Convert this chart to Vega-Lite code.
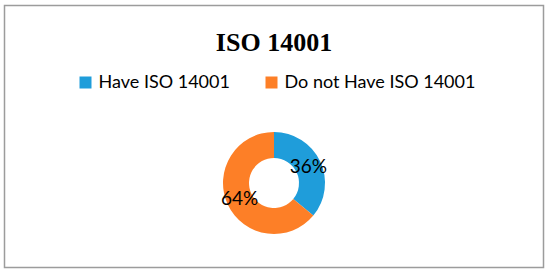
{
  "$schema": "https://vega.github.io/schema/vega-lite/v6.json",
  "autosize": {"type": "none"},
  "width": 539,
  "height": 262,
  "padding": {"left": 4.5, "top": 5.5, "right": 6.5, "bottom": 4.5},
  "background": "white",
  "config": {
    "view": {"stroke": "#9c9c9c", "strokeWidth": 1.5},
    "font": "Lato"
  },
  "title": {
    "text": "ISO 14001",
    "font": "Liberation Serif",
    "fontSize": 26,
    "fontWeight": "bold",
    "color": "#000000",
    "anchor": "middle",
    "offset": -57,
    "dy": -7
  },
  "data": {
    "values": [
      {"category": "Have ISO 14001", "value": 36, "label": "36%", "order": 1},
      {"category": "Do not Have ISO 14001", "value": 64, "label": "64%", "order": 2}
    ]
  },
  "encoding": {
    "theta": {"field": "value", "type": "quantitative", "stack": true},
    "order": {"field": "order", "type": "quantitative"},
    "y": {"value": 177.5}
  },
  "layer": [
    {
      "mark": {"type": "arc", "innerRadius": 25, "outerRadius": 51},
      "encoding": {
        "color": {
          "field": "category",
          "type": "nominal",
          "scale": {"domain": ["Have ISO 14001", "Do not Have ISO 14001"], "range": ["#1f9dda", "#fd7f27"]},
          "legend": {
            "orient": "none",
            "legendX": 72,
            "legendY": 68,
            "direction": "horizontal",
            "title": null,
            "symbolType": "square",
            "symbolSize": 144,
            "symbolStrokeWidth": 0,
            "labelFont": "Lato",
            "labelFontSize": 18,
            "labelColor": "#000000",
            "labelOffset": 4,
            "labelLimit": 400,
            "columnPadding": 32,
            "padding": 0
          }
        }
      }
    },
    {
      "mark": {"type": "text", "radius": 38, "font": "Lato", "fontSize": 19, "color": "#000000"},
      "encoding": {
        "text": {"field": "label", "type": "nominal"}
      }
    }
  ]
}
